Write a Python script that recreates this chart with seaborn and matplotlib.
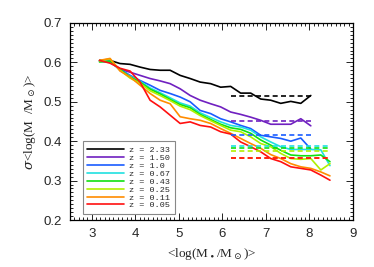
import numpy as np
import pandas as pd
import matplotlib
matplotlib.use("Agg")
import matplotlib.pyplot as plt
from matplotlib.ticker import MultipleLocator
import seaborn as sns

# grille en log(M_bh)
log_m = [3.18, 3.42, 3.65, 3.88, 4.11, 4.34, 4.57, 4.80, 5.03, 5.26, 5.49, 5.73,
         5.96, 6.19, 6.42, 6.65, 6.88, 7.11, 7.34, 7.57, 7.80, 8.03, 8.26, 8.47]

labels = ["z = 2.33", "z = 1.50", "z = 1.0", "z = 0.67",
          "z = 0.43", "z = 0.25", "z = 0.11", "z = 0.05"]
colors = ["#000000", "#7020c0", "#1a5cff", "#20e0e0",
          "#10e010", "#b0f000", "#ff8c00", "#ff1010"]

sig_233 = [0.605, 0.605, 0.597, 0.595, 0.588, 0.582, 0.580, 0.580, 0.567, 0.559, 0.550,
           0.546, 0.537, 0.539, 0.522, 0.522, 0.507, 0.504, 0.496, 0.501, 0.496, 0.516]
sig_150 = [0.603, 0.603, 0.583, 0.575, 0.567, 0.559, 0.553, 0.546, 0.533, 0.516, 0.504,
           0.495, 0.487, 0.474, 0.468, 0.461, 0.453, 0.443, 0.443, 0.443, 0.457, 0.439]
sig_100 = [0.603, 0.600, 0.583, 0.567, 0.554, 0.542, 0.529, 0.521, 0.512, 0.500, 0.478,
           0.470, 0.457, 0.449, 0.440, 0.432, 0.415, 0.411, 0.407, 0.400, 0.408, 0.380]
sig_067 = [0.604, 0.603, 0.580, 0.565, 0.552, 0.535, 0.523, 0.510, 0.497, 0.489, 0.472, 0.460,
           0.449, 0.440, 0.436, 0.428, 0.411, 0.398, 0.386, 0.379, 0.379, 0.379, 0.378, 0.338]
sig_043 = [0.601, 0.603, 0.582, 0.563, 0.550, 0.532, 0.520, 0.506, 0.493, 0.485, 0.468, 0.455,
           0.443, 0.434, 0.430, 0.420, 0.403, 0.390, 0.377, 0.365, 0.363, 0.363, 0.365, 0.348]
sig_025 = [0.604, 0.609, 0.580, 0.560, 0.547, 0.528, 0.516, 0.503, 0.489, 0.480, 0.465, 0.452,
           0.440, 0.428, 0.424, 0.411, 0.394, 0.386, 0.369, 0.356, 0.354, 0.356, 0.327, 0.343]
sig_011 = [0.605, 0.610, 0.578, 0.563, 0.542, 0.521, 0.504, 0.495, 0.462, 0.457, 0.453, 0.445,
           0.432, 0.420, 0.407, 0.394, 0.382, 0.366, 0.356, 0.343, 0.335, 0.331, 0.322, 0.312]
sig_005 = [0.605, 0.598, 0.585, 0.578, 0.550, 0.504, 0.487, 0.466, 0.445, 0.449, 0.440, 0.436,
           0.424, 0.418, 0.398, 0.386, 0.373, 0.356, 0.348, 0.335, 0.331, 0.327, 0.314, 0.301]

series = [sig_233, sig_150, sig_100, sig_067, sig_043, sig_025, sig_011, sig_005]

# niveaux horizontaux (tirets)
dash_level = [0.514, 0.451, 0.415, 0.388, 0.383, 0.376, 0.358, 0.358]
dash_start = [6.19] * 8
dash_end = [8.03, 8.03, 8.03, 8.47, 8.47, 8.47, 8.47, 8.47]

frames = []
for lab, vals in zip(labels, series):
    frames.append(pd.DataFrame({"logM": log_m[:len(vals)], "sigma": vals, "z": lab}))
df = pd.concat(frames, ignore_index=True)

sns.set_style("white")
plt.rcParams["font.family"] = ["Liberation Serif", "DejaVu Serif"]
plt.rcParams["mathtext.fontset"] = "dejavuserif"

fig = plt.figure(figsize=(3.74, 2.67), dpi=100)
ax = fig.add_axes([0.187, 0.176, 0.757, 0.738])

sns.lineplot(data=df, x="logM", y="sigma", hue="z", hue_order=labels,
             palette=colors, estimator=None, sort=False, lw=1.2, ax=ax)

for lev, x0, x1, c in zip(dash_level, dash_start, dash_end, colors):
    ax.hlines(lev, x0, x1, colors=c, linestyles=(0, (3, 2)), lw=1.2)

ax.set_xlim(2.5, 9)
ax.set_ylim(0.2, 0.7)
ax.xaxis.set_major_locator(MultipleLocator(1))
ax.xaxis.set_minor_locator(MultipleLocator(0.1))
ax.yaxis.set_major_locator(MultipleLocator(0.1))
ax.yaxis.set_minor_locator(MultipleLocator(0.01))
ax.tick_params(which="both", direction="in", bottom=True, left=True, top=True, right=True,
               width=0.6, color="black")
ax.tick_params(which="major", length=5, labelsize=9.5, pad=6)
ax.tick_params(which="minor", length=2.5)
for lab in ax.get_xticklabels() + ax.get_yticklabels():
    lab.set_family("Liberation Sans")
for sp in ax.spines.values():
    sp.set_linewidth(0.9)
    sp.set_color("black")

ax.set_xlabel(r"<log(M$_\bullet$/M$_\odot$)>", fontsize=9.5, labelpad=4)
ax.set_ylabel(r"$\sigma$<log(M  /M$_\odot$)>", fontsize=9.5, labelpad=4)

handles, _ = ax.get_legend_handles_labels()
leg = ax.legend(handles, labels, loc="lower left", bbox_to_anchor=(0.045, 0.03),
                borderaxespad=0, fancybox=False, framealpha=1,
                handlelength=4.3, handletextpad=0.6, labelspacing=0.0,
                borderpad=0.55, prop={"family": "Liberation Mono", "size": 6.1})
leg.get_frame().set_edgecolor("#888888")
leg.get_frame().set_linewidth(0.8)

fig.savefig("out.png", dpi=100)
